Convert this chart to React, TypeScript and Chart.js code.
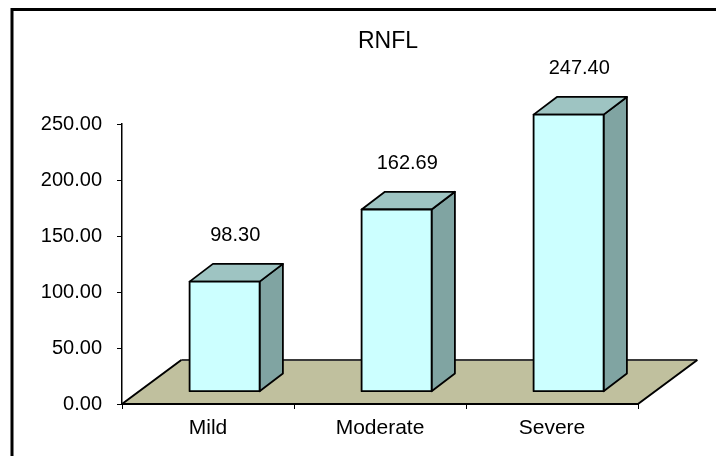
import React, { useEffect, useRef } from "react";
import { Chart, registerables } from "chart.js";

Chart.register(...registerables);

const categories = ["Mild", "Moderate", "Severe"];
const rnflValues = [98.3, 162.69, 247.4];
const yTicks = [0, 50, 100, 150, 200, 250];
const titleText = "RNFL";

const FONT = "'Liberation Sans', Arial, sans-serif";

const threeD = {
  id: "threeD",
  beforeDraw(chart: any) {
    const ctx = chart.ctx;
    ctx.save();
    ctx.fillStyle = "#ffffff";
    ctx.fillRect(0, 0, chart.width, chart.height);
    // outer frame
    ctx.strokeStyle = "#000000";
    ctx.lineWidth = 3;
    ctx.beginPath();
    ctx.moveTo(12, chart.height + 2);
    ctx.lineTo(12, 9.5);
    ctx.lineTo(chart.width + 2, 9.5);
    ctx.stroke();
    ctx.restore();
  },
  beforeDatasetsDraw(chart: any) {
    const ctx = chart.ctx;
    const a = chart.chartArea;
    const fdx = 59.3;
    const fdy = 44;
    ctx.save();
    ctx.fillStyle = "#c0c09e";
    ctx.beginPath();
    ctx.moveTo(a.left, a.bottom);
    ctx.lineTo(a.right, a.bottom);
    ctx.lineTo(a.right + fdx, a.bottom - fdy);
    ctx.lineTo(a.left + fdx, a.bottom - fdy);
    ctx.closePath();
    ctx.fill();
    ctx.lineJoin = "round";
    ctx.strokeStyle = "#3a3a3a";
    ctx.lineWidth = 2;
    ctx.beginPath();
    ctx.moveTo(a.left + fdx, a.bottom - fdy);
    ctx.lineTo(a.right + fdx, a.bottom - fdy);
    ctx.stroke();
    ctx.strokeStyle = "#000000";
    ctx.lineWidth = 2;
    ctx.beginPath();
    ctx.moveTo(a.left, a.bottom);
    ctx.lineTo(a.left + fdx, a.bottom - fdy);
    ctx.moveTo(a.right + fdx, a.bottom - fdy);
    ctx.lineTo(a.right, a.bottom);
    ctx.lineTo(a.left, a.bottom);
    ctx.stroke();
    ctx.restore();
  },
  afterDatasetsDraw(chart: any) {
    const ctx = chart.ctx;
    const meta = chart.getDatasetMeta(0);
    const offX = 16.6;
    const offY = 12.3;
    const dx = 23.3;
    const dy = 17.7;
    ctx.save();
    ctx.lineJoin = "round";
    ctx.strokeStyle = "#000000";
    ctx.lineWidth = 1.8;
    meta.data.forEach((bar: any, i: number) => {
      const p = bar.getProps(["x", "y", "base", "width"], true);
      const l = p.x - p.width / 2 + offX;
      const r = p.x + p.width / 2 + offX;
      const t = p.y - offY;
      const b = p.base - offY;
      // side
      ctx.fillStyle = "#80a4a2";
      ctx.beginPath();
      ctx.moveTo(r, t);
      ctx.lineTo(r + dx, t - dy);
      ctx.lineTo(r + dx, b - dy);
      ctx.lineTo(r, b);
      ctx.closePath();
      ctx.fill();
      ctx.stroke();
      // top
      ctx.fillStyle = "#9ec4c2";
      ctx.beginPath();
      ctx.moveTo(l, t);
      ctx.lineTo(l + dx, t - dy);
      ctx.lineTo(r + dx, t - dy);
      ctx.lineTo(r, t);
      ctx.closePath();
      ctx.fill();
      ctx.stroke();
      // front
      ctx.fillStyle = "#ccffff";
      ctx.beginPath();
      ctx.rect(l, t, r - l, b - t);
      ctx.fill();
      ctx.stroke();
      // value label
      ctx.fillStyle = "#000000";
      ctx.font = `20px ${FONT}`;
      ctx.textAlign = "center";
      ctx.textBaseline = "middle";
      ctx.fillText(rnflValues[i].toFixed(2), (l + r) / 2 + dx / 2 - 1, t - 46);
    });
    ctx.restore();
  },
  afterDraw(chart: any) {
    const ctx = chart.ctx;
    ctx.save();
    ctx.fillStyle = "#000000";
    ctx.font = `23px ${FONT}`;
    ctx.textAlign = "center";
    ctx.textBaseline = "middle";
    ctx.fillText(titleText, 388, 42);
    ctx.restore();
  },
};

export default function App() {
  const ref = useRef<HTMLCanvasElement | null>(null);
  useEffect(() => {
    if (!ref.current) return;
    const chart = new Chart(ref.current, {
      type: "bar",
      data: {
        labels: categories,
        datasets: [
          {
            label: titleText,
            data: rnflValues,
            backgroundColor: "rgba(0,0,0,0)",
            borderWidth: 0,
            categoryPercentage: 1,
            barPercentage: 0.407,
          },
        ],
      },
      options: {
        animation: false,
        responsive: false,
        devicePixelRatio: 1,
        layout: { padding: { top: 124, right: 78, left: 0, bottom: 0 } },
        plugins: {
          legend: { display: false },
          title: { display: false },
          tooltip: { enabled: false },
        },
        scales: {
          x: {
            grid: {
              display: true,
              drawOnChartArea: false,
              drawTicks: true,
              tickLength: 5,
              color: "#000000",
              offset: true,
            },
            border: { display: true, color: "#000000", width: 2 },
            ticks: {
              color: "#000000",
              font: { family: FONT, size: 21 },
              padding: 7,
            },
            afterFit: (s: any) => {
              s.height = 52;
            },
          },
          y: {
            min: 0,
            max: 250,
            afterBuildTicks: (s: any) => {
              s.ticks = yTicks.map((v) => ({ value: v }));
            },
            grid: {
              display: true,
              drawOnChartArea: false,
              drawTicks: true,
              tickLength: 5,
              color: "#000000",
            },
            border: { display: true, color: "#000000", width: 1.5 },
            ticks: {
              color: "#000000",
              font: { family: FONT, size: 20 },
              padding: 15,
              callback: (v: any) => Number(v).toFixed(2),
            },
            afterFit: (s: any) => {
              s.width = 122;
            },
          },
        },
      },
      plugins: [threeD],
    });
    return () => chart.destroy();
  }, []);
  return (
    <div style={{ position: "fixed", left: 0, top: 0, width: 716, height: 456 }}>
      <canvas ref={ref} width={716} height={456} style={{ width: 716, height: 456 }} />
    </div>
  );
}
